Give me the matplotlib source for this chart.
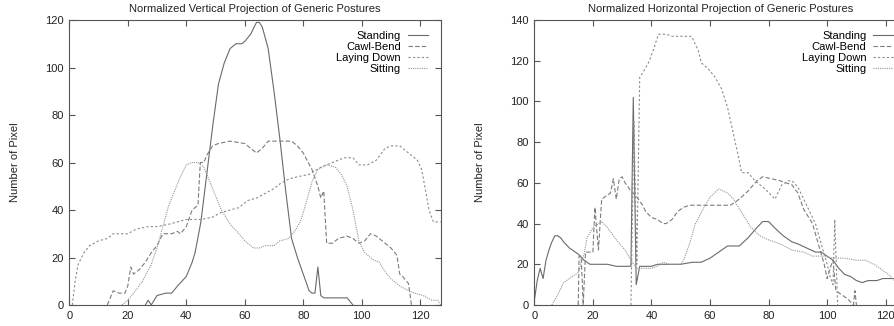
import matplotlib
matplotlib.use("Agg")
import matplotlib.pyplot as plt

plt.rcParams["font.family"] = ["Liberation Sans", "DejaVu Sans"]

etiketit = ["Standing", "Cawl-Bend", "Laying Down", "Sitting"]

# --- vertical projection (left panel) ---
v_standing_x = [26, 27, 28, 29, 30, 33, 35, 37, 40, 42, 43, 45, 47, 49, 51, 53, 55, 57, 59,
                60, 62, 64, 65, 66, 68, 70, 72, 74, 76, 78, 80, 82, 83, 84, 85, 86, 87, 95, 97]
v_standing_y = [0, 2, 0, 2, 4, 5, 5, 8, 12, 18, 22, 35, 55, 75, 93, 102, 108, 110, 110,
                111, 114, 119, 119, 117, 108, 90, 70, 48, 28, 20, 13, 6, 5, 5, 16, 4, 3, 3, 0]

v_cawl_x = [13, 15, 17, 19, 20, 21, 22, 24, 26, 28, 30, 32, 35, 37, 38, 40, 42, 44, 44.8,
            46, 47, 49, 51, 55, 60, 62, 64, 66, 68, 76, 78, 80, 83, 85, 86, 87, 88, 90, 92,
            95, 97, 99, 101, 103, 105, 107, 110, 112, 113, 114, 116, 117]
v_cawl_y = [0, 6, 5, 5, 8, 16, 13, 15, 18, 22, 25, 30, 30, 31, 30, 33, 40, 42, 60,
            60, 63, 67, 68, 69, 68, 66, 64, 66, 69, 69, 67, 64, 57, 50, 45, 48, 26, 26, 28,
            29, 28, 26, 27, 30, 29, 27, 24, 21, 13, 12, 9, 0]

v_laying_x = [1, 2, 3, 5, 7, 10, 13, 15, 20, 23, 27, 30, 34, 37, 40, 45, 49, 52, 55, 58,
              61, 64, 67, 70, 72, 75, 78, 82, 86, 90, 94, 97, 99, 102, 105, 108, 110, 113, 115, 117,
              119, 120.5, 122, 123, 124.5, 127]
v_laying_y = [0, 10, 17, 22, 25, 27, 28, 30, 30, 32, 33, 33, 34, 35, 36, 36, 37, 39, 40, 41,
              44, 45, 47, 49, 51, 53, 54, 55, 58, 60, 62, 62, 59, 59, 61, 66, 67, 67, 65, 63,
              61, 57, 47, 40, 35, 35]

v_sitting_x = [18, 20, 22, 25, 28, 30, 32, 34, 36, 38, 40, 42, 44, 46, 48, 50, 52, 55, 58, 60,
               63, 65, 67, 70, 72, 75, 77, 79, 81, 83, 85, 88, 91, 93, 95, 97, 99, 101, 104, 106,
               108, 110, 113, 116, 118, 121, 124, 126, 127]
v_sitting_y = [0, 2, 5, 10, 17, 24, 33, 42, 48, 54, 59, 60, 60, 58, 52, 46, 40, 34, 30, 27,
               24, 24, 25, 25, 27, 28, 31, 35, 43, 52, 57, 59, 58, 55, 50, 40, 27, 22, 19, 18,
               14, 11, 8, 6, 5, 4, 2, 2, 0]

# --- horizontal projection (right panel) ---
h_standing_x = [0, 1, 2, 3, 4, 5, 6, 7, 8, 9, 10, 12, 15, 17, 19, 25, 28, 33, 33.8, 34.8,
                36, 40, 42, 50, 54, 57, 60, 62, 64, 66, 70, 73, 76, 78, 80, 82, 85, 88, 90, 93,
                96, 98, 100, 102, 104, 106, 108, 110, 112, 114, 117, 119, 123, 127]
h_standing_y = [2, 12, 18, 13, 22, 27, 31, 34, 34, 33, 31, 28, 25, 22, 20, 20, 19, 19, 102, 10,
                19, 19, 20, 20, 21, 21, 23, 25, 27, 29, 29, 33, 38, 41, 41, 38, 34, 31, 30, 28,
                26, 26, 24, 22, 18, 15, 14, 12, 11, 12, 12, 13, 13, 13]

h_cawl_x = [15, 15.3, 16, 16.7, 17.5, 20, 20.7, 21.9, 23, 25, 26, 27, 28, 29, 30, 31, 33, 35, 37,
            38, 40, 42, 44, 45, 47, 49, 51, 53, 56, 67, 70, 73, 76, 78, 81, 84, 86, 88, 90,
            92, 95, 97, 99, 100, 101, 102, 103, 105, 107, 109, 109.5, 110]
h_cawl_y = [0, 24, 24, 0, 26, 26, 48, 27, 52, 54, 55, 62, 52, 62, 63, 60, 56, 53, 49,
            46, 43, 42, 40, 40, 42, 46, 48, 49, 49, 49, 52, 56, 61, 63, 62, 61, 60, 59, 55,
            47, 40, 30, 20, 13, 18, 22, 7, 5, 3, 0, 7, 0]

h_laying_x = [33, 34, 35, 36, 37, 39, 40.6, 42.4, 45, 47, 50, 53.7, 56, 57, 59.4, 61.7, 64, 66, 68, 69.7,
              70.8, 73, 75.4, 78.8, 82.2, 84.5, 86.8, 88, 90, 92, 94, 96, 98, 100, 101, 102, 102.6, 103.6]
h_laying_y = [0, 90, 20, 112, 114, 119, 125, 133, 133, 132, 132, 132, 125, 119, 116, 112, 106, 97, 84, 73,
              65, 65, 61, 57, 52, 59, 61, 61, 58, 52, 46, 40, 30, 20, 14, 10, 42, 0]

h_sitting_x = [6, 8, 10, 13, 15, 17, 18, 20, 22, 23, 25, 28, 31, 33, 34, 35, 38, 40, 42, 44,
               46, 50, 51, 53, 55, 58, 60, 63, 66, 68, 71, 74, 77, 80, 84, 88, 92, 95, 99, 102,
               106, 110, 113, 116, 118, 121, 123, 125, 127]
h_sitting_y = [0, 5, 11, 14, 16, 25, 33, 38, 40, 41, 38, 32, 27, 22, 20, 18, 18, 18, 19, 21,
               20, 20, 22, 30, 40, 48, 53, 57, 55, 52, 45, 38, 34, 32, 30, 27, 26, 24, 24, 23,
               23, 22, 22, 20, 18, 15, 12, 8, 5]

tyylit = [
    dict(color="#6a6a6a", linestyle="-"),
    dict(color="#7c7c7c", linestyle=(0, (4, 2))),
    dict(color="#8a8a8a", linestyle=(0, (2, 2))),
    dict(color="#959595", linestyle=(0, (1, 1))),
]

FS = 8


def piirra(ax, sarjat, otsikko, ymax):
    """ Piirretaan yksi paneeli gnuplot-tyyliin """
    for (x, y), nimi, tyyli in zip(sarjat, etiketit, tyylit):
        ax.plot(x, y, label=nimi, linewidth=0.8, **tyyli)
    ax.set_xlim(0, 127)
    ax.set_ylim(0, ymax)
    ax.set_xticks(range(0, 121, 20))
    ax.set_yticks(range(0, ymax + 1, 20))
    ax.tick_params(direction="in", length=4, width=0.8, top=True, right=True,
                   labelsize=FS, colors="#555555", labelcolor="#222222", pad=4)
    for s in ax.spines.values():
        s.set_color("#555555")
        s.set_linewidth(0.8)
    ax.set_ylabel("Number of Pixel", fontsize=FS, color="#222222")
    ax.yaxis.label.set_va("center")
    ax.yaxis.set_label_coords(-0.147, 0.5)
    ax.text(0.5, 1 + 11 / 285, otsikko, transform=ax.transAxes, ha="center", va="center",
            fontsize=FS, color="#222222")
    ax.legend(loc="upper right", frameon=False, markerfirst=False, fontsize=FS,
              handlelength=1.8, handletextpad=0.6, labelspacing=0.1,
              borderpad=0, borderaxespad=0,
              bbox_to_anchor=(1 - 13 / 371.5, 1 - 11 / 285))


fig = plt.figure(figsize=(8.95, 3.26), dpi=100)
ax1 = fig.add_axes([69.3 / 895, 21 / 326, 371.4 / 895, 285 / 326])
ax2 = fig.add_axes([534.3 / 895, 21 / 326, 371.9 / 895, 285 / 326])

piirra(ax1, [(v_standing_x, v_standing_y), (v_cawl_x, v_cawl_y),
             (v_laying_x, v_laying_y), (v_sitting_x, v_sitting_y)],
       "Normalized Vertical Projection of Generic Postures", 120)
piirra(ax2, [(h_standing_x, h_standing_y), (h_cawl_x, h_cawl_y),
             (h_laying_x, h_laying_y), (h_sitting_x, h_sitting_y)],
       "Normalized Horizontal Projection of Generic Postures", 140)

fig.savefig("out.png", dpi=100)
